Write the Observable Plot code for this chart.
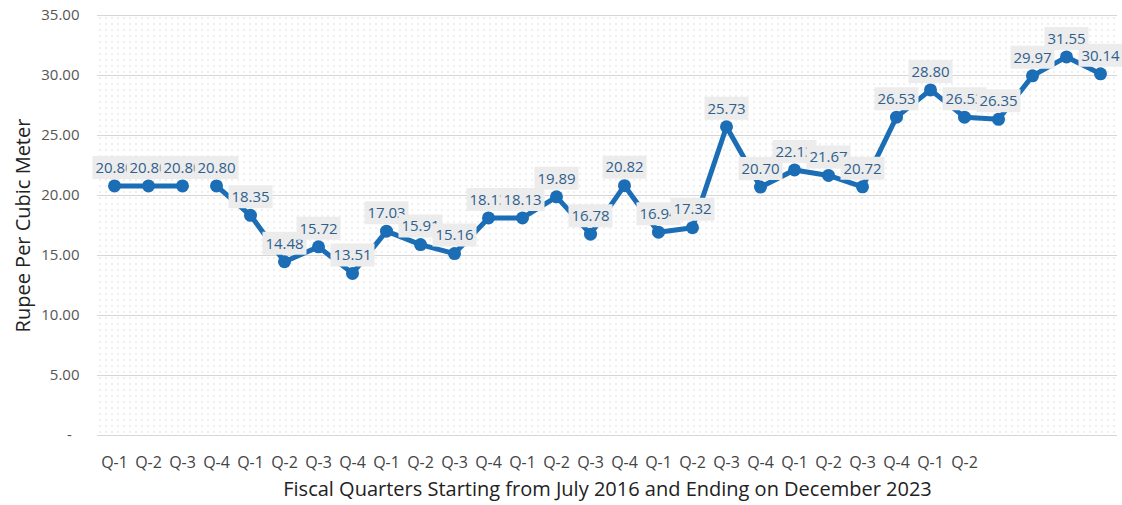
<!DOCTYPE html>
<html>
<head>
<meta charset="utf-8">
<script src="https://cdn.jsdelivr.net/npm/d3@7"></script>
<script src="https://cdn.jsdelivr.net/npm/@observablehq/plot@0.6"></script>
<style>
  html, body { margin: 0; padding: 0; background: #fff; }
  #chart svg { display: block; }
</style>
</head>
<body>
<div id="chart"></div>
<script>
// Quarterly values (Rupee per cubic meter), July 2016 – December 2023
const values = [20.80, 20.80, 20.80, 20.80, 18.35, 14.48, 15.72, 13.51, 17.03, 15.91,
                15.16, 18.13, 18.13, 19.89, 16.78, 20.82, 16.94, 17.32, 25.73, 20.70,
                22.13, 21.67, 20.72, 26.53, 28.80, 26.53, 26.35, 29.97, 31.55, 30.14];
// line segment each point belongs to (the line is broken after the 3rd point)
const segments = [1, 1, 1, 2, 2, 2, 2, 2, 2, 2, 2, 2, 2, 2, 2, 2, 2, 2, 2, 2,
                  2, 2, 2, 2, 2, 2, 2, 2, 2, 2];
// x tick labels (only the first 26 positions are labelled)
const tickLabels = ["Q-1","Q-2","Q-3","Q-4","Q-1","Q-2","Q-3","Q-4","Q-1","Q-2",
                    "Q-3","Q-4","Q-1","Q-2","Q-3","Q-4","Q-1","Q-2","Q-3","Q-4",
                    "Q-1","Q-2","Q-3","Q-4","Q-1","Q-2"];
const yTicks = [0, 5, 10, 15, 20, 25, 30, 35];

const data = values.map((v, i) => ({i, v, seg: segments[i]}));

const blue = "#1b6db5";
const labelBox = {
  draw(context) { context.rect(-22, -12, 44, 23); }
};

const labelMarks = [];
data.forEach(d => {
  labelMarks.push(Plot.dot([d], {x: "i", y: "v", dy: -18, symbol: labelBox, fill: "#ececec", stroke: "none", r: 4}));
  labelMarks.push(Plot.text([d], {x: "i", y: "v", dy: -18, text: q => q.v.toFixed(2), fill: "#2f5f8c",
    fontSize: 15, fontFamily: "Open Sans, sans-serif"}));
});

const chart = Plot.plot({
  width: 1122,
  height: 505,
  marginTop: 15,
  marginBottom: 70,
  marginLeft: 97,
  marginRight: 5,
  style: {fontFamily: "Open Sans, sans-serif", background: "#fff"},
  x: {
    type: "band",
    domain: d3.range(values.length),
    padding: 0,
    label: "Fiscal Quarters Starting from July 2016 and Ending on December 2023"
  },
  y: {domain: [0, 35], label: "Rupee Per Cubic Meter"},
  marks: [
    Plot.frame({fill: "url(#dotgrid)", stroke: "none"}),
    Plot.ruleY(yTicks, {stroke: "#d6d6d6", strokeWidth: 1.2}),
    Plot.axisY(yTicks, {
      tickSize: 0, tickPadding: 18, fontSize: 15, fill: "#555",
      tickFormat: d => d === 0 ? "-\u00a0\u00a0" : d.toFixed(2),
      label: "Rupee Per Cubic Meter", labelAnchor: "center", labelArrow: "none",
      labelOffset: 82
    }),
    Plot.axisX(d3.range(tickLabels.length), {
      tickSize: 0, tickPadding: 21, fontSize: 16, fill: "#444",
      tickFormat: i => tickLabels[i],
      label: "Fiscal Quarters Starting from July 2016 and Ending on December 2023",
      labelAnchor: "center", labelArrow: "none", labelOffset: 60
    }),
    Plot.line(data, {x: "i", y: "v", z: "seg", stroke: blue, strokeWidth: 5}),
    Plot.dot(data, {x: "i", y: "v", r: 6.5, fill: blue, stroke: "none"}),
    ...labelMarks
  ]
});

// dotted background pattern
const ns = "http://www.w3.org/2000/svg";
const defs = document.createElementNS(ns, "defs");
const pat = document.createElementNS(ns, "pattern");
pat.setAttribute("id", "dotgrid");
pat.setAttribute("width", "6");
pat.setAttribute("height", "6");
pat.setAttribute("patternUnits", "userSpaceOnUse");
pat.setAttribute("x", "97");
pat.setAttribute("y", "15");
const dot = document.createElementNS(ns, "rect");
dot.setAttribute("x", "2");
dot.setAttribute("y", "2");
dot.setAttribute("width", "1");
dot.setAttribute("height", "1");
dot.setAttribute("fill", "#bdbdbd");
pat.appendChild(dot);
defs.appendChild(pat);
chart.insertBefore(defs, chart.firstChild);

// axis title font sizes
chart.querySelectorAll("[aria-label='y-axis label'], [aria-label='x-axis label']").forEach(g => {
  g.setAttribute("font-size", "20");
  g.setAttribute("fill", "#222");
  g.querySelectorAll("text").forEach(t => { t.setAttribute("font-size", "20"); t.setAttribute("fill", "#222"); });
});

document.getElementById("chart").appendChild(chart);
</script>
</body>
</html>
